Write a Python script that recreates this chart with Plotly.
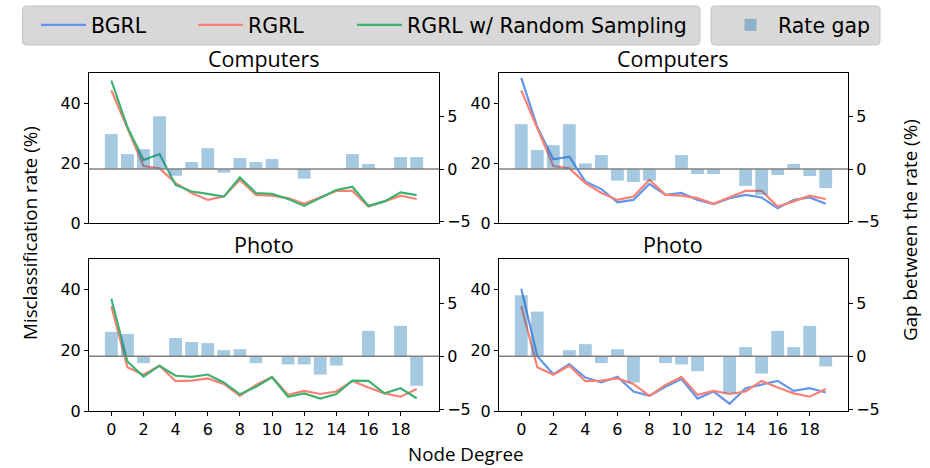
import plotly.graph_objects as go

degrees = list(range(20))

# Computers
comp_bgrl = [48.4, 32.0, 21.2, 22.1, 13.8, 11.3, 6.9, 7.7, 13.0, 9.4, 10.0, 7.7, 6.3, 8.3, 9.4, 8.5, 4.9, 7.7, 8.5, 6.4]
comp_rgrl = [44.2, 31.5, 19.0, 18.2, 13.3, 10.0, 7.7, 8.8, 14.4, 9.4, 9.1, 8.3, 6.4, 8.6, 10.7, 10.7, 5.5, 7.2, 9.1, 8.0]
comp_rand = [47.5, 32.0, 21.0, 23.0, 12.7, 10.5, 9.7, 8.8, 15.2, 10.0, 9.7, 8.0, 5.7, 8.3, 11.0, 12.1, 5.7, 7.2, 10.2, 9.3]
comp_gap_rand = [3.34, 1.43, 1.91, 5.06, -0.64, 0.67, 2.0, -0.35, 1.05, 0.67, 0.96, 0.0, -0.92, 0.0, 0.0, 1.43, 0.48, 0.0, 1.15, 1.15]
comp_gap_bgrl = [4.3, 1.82, 2.29, 4.3, 0.54, 1.34, -1.11, -1.24, -1.11, 0.0, 1.34, -0.48, -0.48, 0.0, -1.62, -2.48, -0.57, 0.48, -0.67, -1.82]

# Photo
photo_bgrl = [40.2, 18.0, 12.1, 15.4, 11.0, 9.4, 11.3, 6.4, 5.0, 8.0, 10.5, 4.1, 6.4, 2.4, 7.5, 8.6, 9.9, 6.6, 7.5, 6.1]
photo_rgrl = [34.5, 14.4, 11.9, 14.9, 9.8, 10.0, 10.7, 8.9, 5.0, 8.6, 11.2, 5.3, 6.6, 5.6, 6.4, 9.9, 7.7, 5.8, 4.7, 7.2]
photo_rand = [36.9, 16.3, 11.3, 14.9, 11.6, 11.2, 12.0, 9.4, 5.5, 8.0, 11.1, 4.7, 5.8, 4.1, 5.6, 10.0, 9.9, 5.8, 7.5, 4.2]
photo_gap_rand = [2.31, 2.12, -0.64, 0.0, 1.73, 1.35, 1.25, 0.58, 0.67, -0.64, 0.0, -0.77, -0.77, -1.73, -0.87, 0.0, 2.4, 0.0, 2.88, -2.79]
photo_gap_bgrl = [5.77, 4.23, 0.0, 0.58, 1.15, -0.64, 0.67, -2.47, 0.0, -0.64, -0.77, -1.41, 0.0, -3.49, 0.87, -1.63, 2.4, 0.87, 2.88, -0.96]

titles = ["Computers", "Computers", "Photo", "Photo"]
x_ticks = list(range(0, 20, 2))
left_ticks = [0, 20, 40]
right_ticks = [-5, 0, 5]

C_BGRL = "#6495ED"
C_RGRL = "#FA8072"
C_RAND = "#3CB371"
C_BAR = "rgba(31,119,180,0.4)"

W, H = 930, 468
def px(x): return x / W
def py(y): return 1 - y / H

xdom_l = [px(89), px(439)]
xdom_r = [px(499), px(848)]
ydom_t = [py(223), py(73)]
ydom_b = [py(411), py(259)]

panels = [
    dict(dom=(xdom_l, ydom_t), lines=[("RGRL", comp_rgrl, C_RGRL), ("RGRL w/ Random Sampling", comp_rand, C_RAND)], gap=comp_gap_rand, bottom=False),
    dict(dom=(xdom_r, ydom_t), lines=[("BGRL", comp_bgrl, C_BGRL), ("RGRL", comp_rgrl, C_RGRL)], gap=comp_gap_bgrl, bottom=False),
    dict(dom=(xdom_l, ydom_b), lines=[("RGRL", photo_rgrl, C_RGRL), ("RGRL w/ Random Sampling", photo_rand, C_RAND)], gap=photo_gap_rand, bottom=True),
    dict(dom=(xdom_r, ydom_b), lines=[("BGRL", photo_bgrl, C_BGRL), ("RGRL", photo_rgrl, C_RGRL)], gap=photo_gap_bgrl, bottom=True),
]

legend_of = {"BGRL": "legend", "RGRL": "legend3", "RGRL w/ Random Sampling": "legend4"}

fig = go.Figure()
shown = set()
tickfont = dict(family="DejaVu Sans", size=16, color="black")
layout = {}
shapes = []
annotations = []

for i, p in enumerate(panels):
    n = i + 1
    xa = "x" if n == 1 else f"x{n}"
    ya = "y" if n == 1 else f"y{n}"
    ya2 = f"y{n+4}"
    for name, vals, col in p["lines"]:
        show = name not in shown
        shown.add(name)
        fig.add_trace(go.Scatter(x=degrees, y=vals, mode="lines", name=name,
                                 line=dict(color=col, width=2.2), xaxis=xa, yaxis=ya,
                                 showlegend=show, legend=legend_of[name]))
    fig.add_trace(go.Bar(x=degrees, y=p["gap"], width=0.8, marker=dict(color=C_BAR, line=dict(width=0)),
                         name="Rate gap", xaxis=xa, yaxis=ya2, showlegend=(n == 1), legend="legend2"))
    xd, yd = p["dom"]
    layout[f"xaxis{'' if n == 1 else n}"] = dict(
        domain=xd, anchor=ya, range=[-1.39, 20.39], showline=True, mirror=True,
        linecolor="black", linewidth=1, showgrid=False, zeroline=False, automargin=False,
        tickvals=x_ticks, ticks="outside" if p["bottom"] else "", ticklen=4,
        tickcolor="black", showticklabels=p["bottom"], tickfont=tickfont)
    layout[f"yaxis{'' if n == 1 else n}"] = dict(
        domain=yd, anchor=xa, range=[0, 50], showline=True, linecolor="black",
        linewidth=1, showgrid=False, zeroline=False, tickvals=left_ticks, automargin=False,
        ticks="outside", ticklen=4, tickcolor="black", tickfont=tickfont)
    layout[f"yaxis{n+4}"] = dict(
        overlaying=ya, side="right", anchor=xa, range=[-5.17, 9.2], showline=True,
        linecolor="black", linewidth=1, showgrid=False, zeroline=False, automargin=False,
        tickvals=right_ticks, ticks="outside", ticklen=4, tickcolor="black",
        tickfont=tickfont)
    shapes.append(dict(type="line", xref=f"{xa} domain", x0=0, x1=1, yref=ya2, y0=0, y1=0,
                       line=dict(color="gray", width=1.5), layer="above"))
    annotations.append(dict(text=titles[i], x=(xd[0] + xd[1]) / 2, y=yd[1] - 2 / H,
                            xref="paper", yref="paper", xanchor="center", yanchor="bottom",
                            showarrow=False, font=dict(family="Open Sans", size=21.5, color="black")))

labfont = dict(family="Open Sans", size=18.8, color="black")
annotations += [
    dict(text="Misclassification rate (%)", x=px(30), y=py(233), xref="paper", yref="paper",
         textangle=-90, showarrow=False, xanchor="center", yanchor="middle", font=labfont),
    dict(text="Gap between the rate (%)", x=px(910), y=py(230), xref="paper", yref="paper",
         textangle=-90, showarrow=False, xanchor="center", yanchor="middle", font=labfont),
    dict(text="Node Degree", x=px(466), y=py(454), xref="paper", yref="paper",
         showarrow=False, xanchor="center", yanchor="middle", font=labfont),
]

# rounded legend frames (in pixel coordinates converted to paper units)
def rounded_box(x0, y0, x1, y1, r=4):
    X = lambda v: f"{px(v):.5f}"
    Y = lambda v: f"{py(v):.5f}"
    return (f"M {X(x0 + r)},{Y(y0)} L {X(x1 - r)},{Y(y0)} Q {X(x1)},{Y(y0)} {X(x1)},{Y(y0 + r)} "
            f"L {X(x1)},{Y(y1 - r)} Q {X(x1)},{Y(y1)} {X(x1 - r)},{Y(y1)} "
            f"L {X(x0 + r)},{Y(y1)} Q {X(x0)},{Y(y1)} {X(x0)},{Y(y1 - r)} "
            f"L {X(x0)},{Y(y0 + r)} Q {X(x0)},{Y(y0)} {X(x0 + r)},{Y(y0)} Z")

for bx in [(22.5, 6, 700, 45), (711, 6, 880, 45)]:
    shapes.append(dict(type="path", xref="paper", yref="paper", path=rounded_box(*bx),
                       fillcolor="#d8d8d8", line=dict(color="#c4c4c4", width=1), layer="above"))

legfont = dict(family="DejaVu Sans", size=20.5, color="black")
legbase = dict(orientation="h", yanchor="top", xanchor="left", y=py(5),
               bgcolor="rgba(0,0,0,0)", borderwidth=0, font=legfont, itemwidth=45)
fig.update_layout(
    width=W, height=H, margin=dict(l=0, r=0, t=0, b=0, autoexpand=False),
    plot_bgcolor="white", paper_bgcolor="white",
    barmode="overlay",
    shapes=shapes, annotations=annotations,
    legend=dict(legbase, x=px(36)),
    legend3=dict(legbase, x=px(193)),
    legend4=dict(legbase, x=px(352)),
    legend2=dict(legbase, x=px(723)),
    **layout,
)

fig.write_html("out.html")
